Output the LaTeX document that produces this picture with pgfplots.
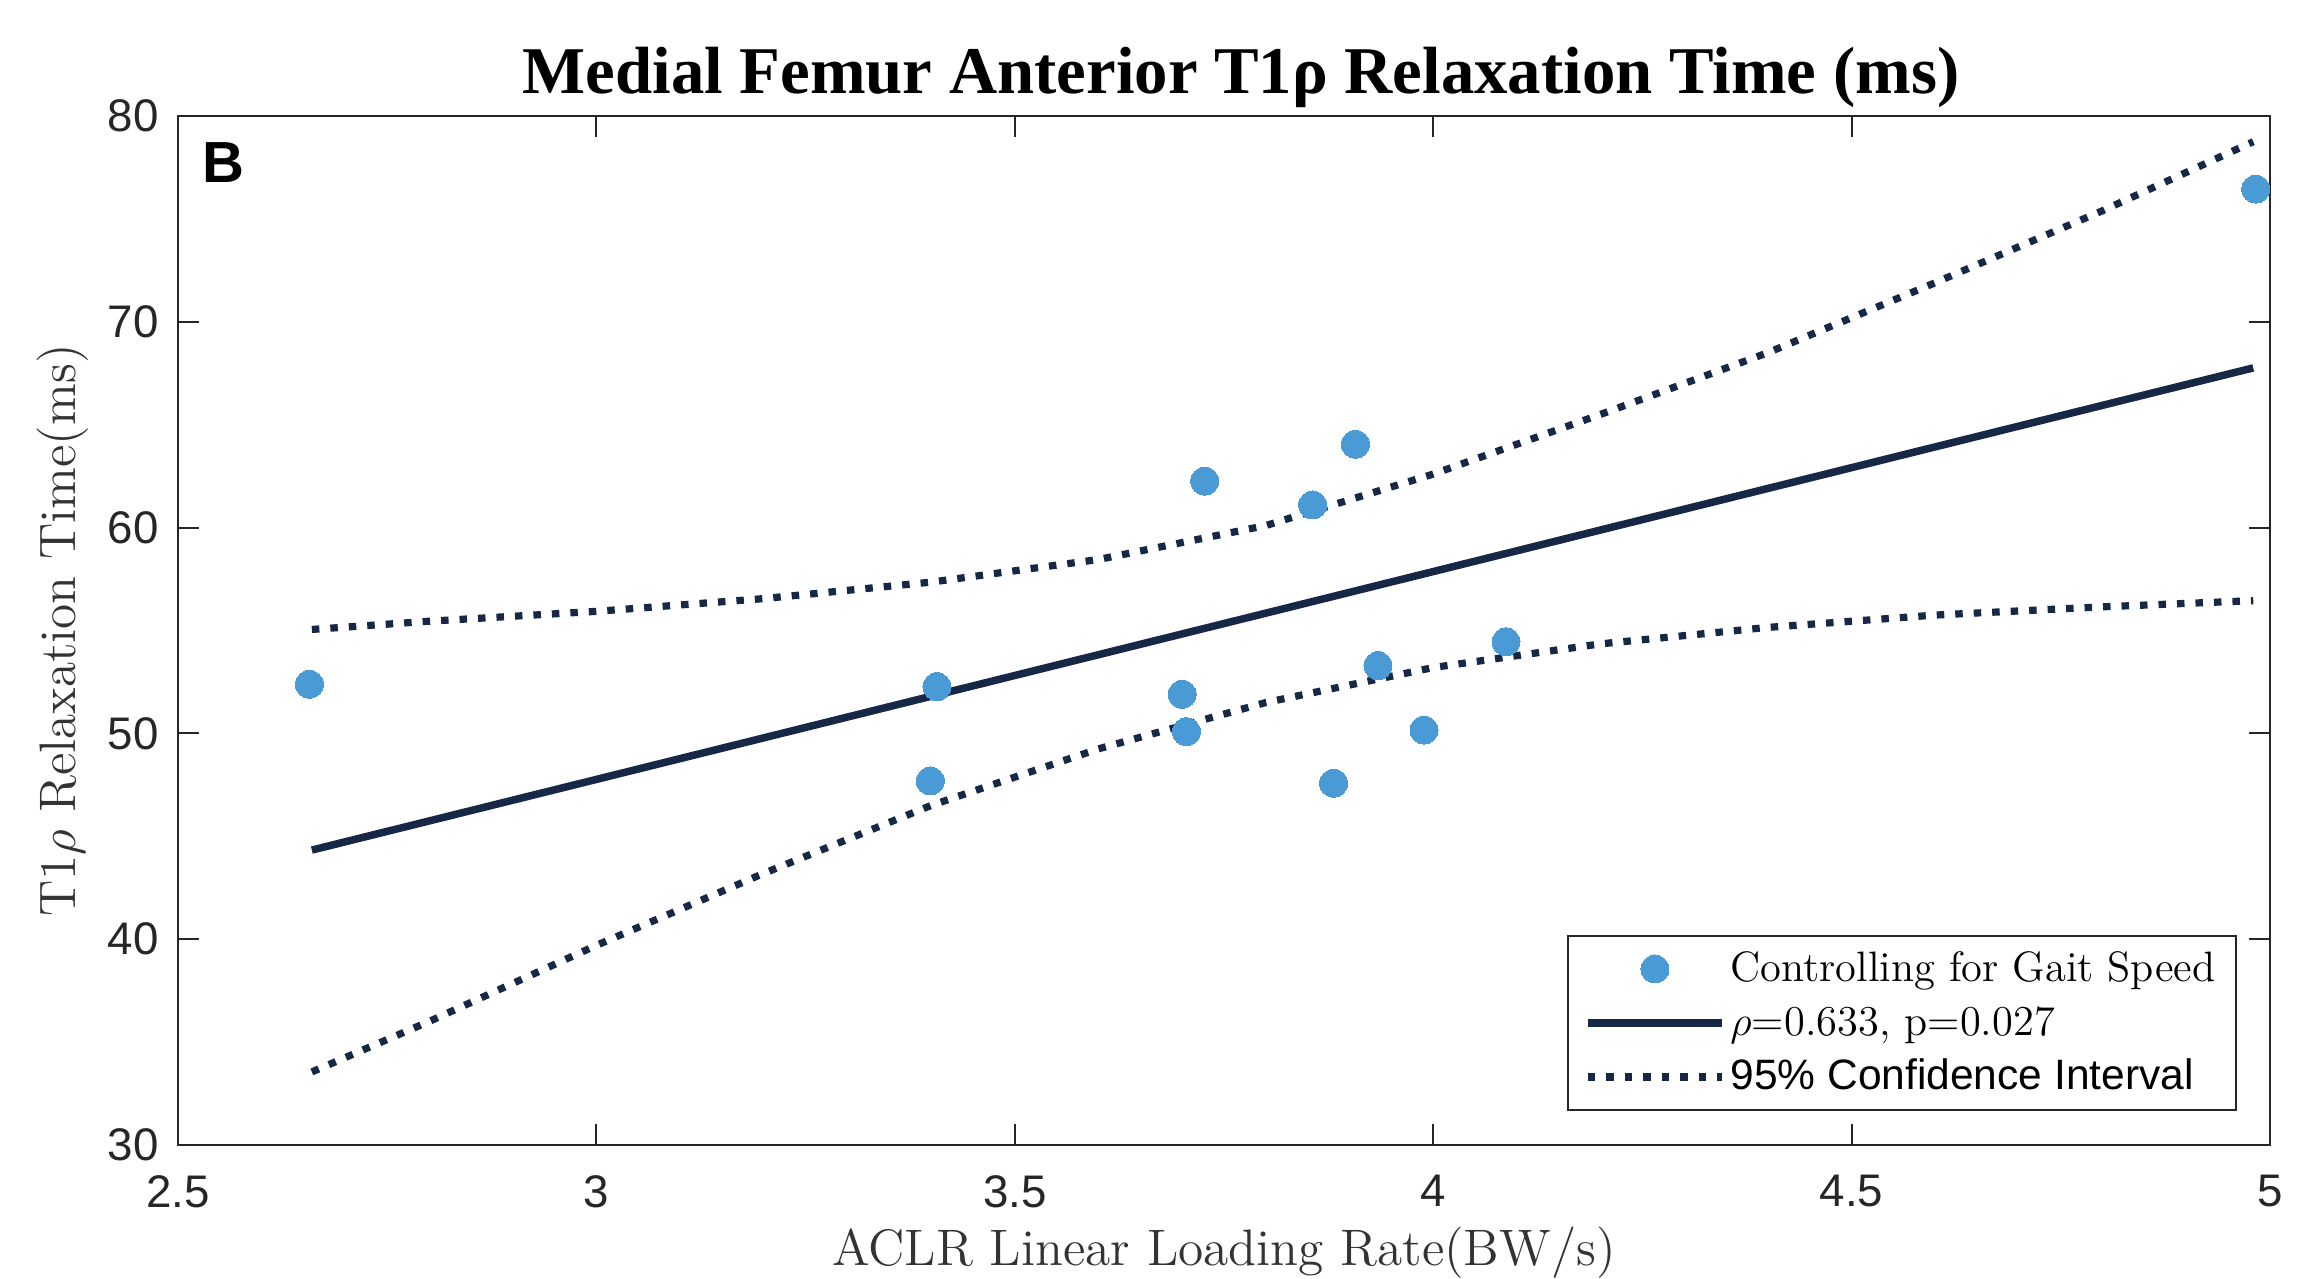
\documentclass[border=0pt]{standalone}
\usepackage{fontspec}
\usepackage{pgfplots}
\pgfplotsset{compat=1.18}
\newfontfamily\arial{Liberation Sans}
\newfontfamily\titlefont{Liberation Serif}
\definecolor{dotc}{RGB}{74,155,213}
\definecolor{linec}{RGB}{22,40,70}
\pgfplotsset{
  dotlegend/.style={legend image code/.code={\draw[mark repeat=2, mark phase=2, ##1] plot coordinates {(0mm,0mm) (6.7mm,0mm) (13.85mm,0mm)};}},
  linelegend/.style={legend image code/.code={\path[draw=none, fill=none] (0mm,0mm) -- (13.85mm,0mm); \draw[##1] (0mm,0mm) -- (13.4mm,0mm);}},
}
\begin{document}
\begin{tikzpicture}
\useasboundingbox (-17.8mm,-13.4mm) rectangle (214.5mm,114.5mm);
\begin{axis}[
  at={(0,0)}, anchor=south west,
  scale only axis, width=209.2mm, height=102.9mm,
  xmin=2.5, xmax=5, ymin=30, ymax=80,
  xtick={2.5,3,3.5,4,4.5,5}, ytick={30,40,50,60,70,80},
  tick align=inside, tick pos=both, major tick length=2.1mm,
  axis line style={black!85, line width=0.6pt},
  every tick/.style={black!85, line width=0.6pt},
  ticklabel style={font=\arial\fontsize{13}{13}\selectfont, text=black!85},
  xticklabel style={yshift=-1.8mm},
  yticklabel style={xshift=-0.7mm},
  /pgf/number format/assume math mode=true,
  xlabel={ACLR Linear Loading Rate(BW/s)},
  ylabel={T1$\rho$ Relaxation Time(ms)},
  label style={font=\fontsize{14.6}{16}\selectfont, text=black!80},
  xlabel style={at={(axis description cs:0.5,0)}, anchor=base, yshift=-12.1mm},
  ylabel style={at={(axis description cs:0,0.5)}, anchor=base, yshift=10.2mm},
  title={Medial Femur Anterior T1ρ Relaxation Time (ms)},
  title style={font=\titlefont\bfseries\fontsize{19}{19}\selectfont, at={(axis description cs:0.5,1)}, anchor=base, yshift=0.1mm, xshift=1.7mm},
  legend style={draw=black!85, line width=0.6pt, at={(axis description cs:1,0)}, anchor=south east, xshift=-3.3mm, yshift=3.4mm, font=\fontsize{12.1}{12}\selectfont, inner xsep=1.65mm, inner ysep=0.6mm, row sep=0mm, nodes={inner sep=0.4mm, text height=3.6mm, text depth=1mm}},
  legend cell align=left,
]
\addplot[dotc, only marks, mark=*, mark size=1.4mm, mark options={draw=dotc, fill=dotc, line width=0pt}, dotlegend]
  table {
x y
2.657 52.39
3.407 52.27
3.399 47.69
3.727 62.26
3.700 51.90
3.705 50.08
3.856 61.10
3.907 64.05
3.881 47.58
3.934 53.29
3.989 50.16
4.087 54.45
4.983 76.45
};
\addlegendentry{Controlling for Gait Speed}
\addplot[linec, line width=0.75mm, linelegend]
  table {
x y
2.66 44.33
4.98 67.76
};
\addlegendentry{$\rho$=0.633, p=0.027}
\addplot[linec, line width=0.72mm, dash pattern=on 0.75mm off 1.1mm, linelegend]
  table {
x y
2.66 55.05
2.8 55.45
3.0 55.93
3.2 56.55
3.4 57.35
3.6 58.45
3.8 60.1
4.0 62.6
4.2 65.5
4.4 68.5
4.6 71.9
4.8 75.4
4.98 78.75
};
\addlegendentry{\arial 95\% Confidence Interval}
\addplot[linec, line width=0.72mm, dash pattern=on 0.75mm off 1.1mm, forget plot]
  table {
x y
2.66 33.55
2.8 36.0
3.0 39.7
3.2 43.2
3.4 46.5
3.6 49.25
3.8 51.5
4.0 53.2
4.2 54.35
4.4 55.15
4.6 55.75
4.8 56.15
4.98 56.45
};
\node[anchor=north west, inner sep=0pt, xshift=2.37mm, yshift=-2.57mm, font=\arial\bfseries\fontsize{16.5}{16.5}\selectfont] at (rel axis cs:0,1) {B};
\end{axis}
\end{tikzpicture}
\end{document}
